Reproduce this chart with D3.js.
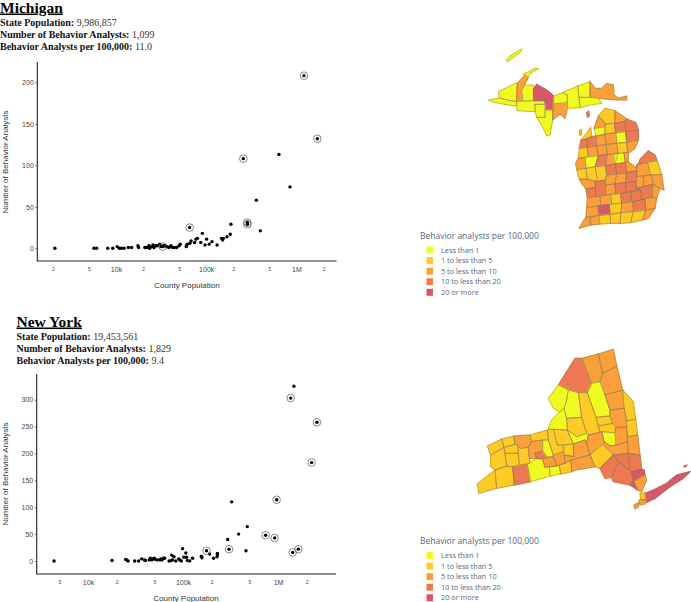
<!DOCTYPE html>
<html>
<head>
<meta charset="utf-8">
<script src="https://cdn.jsdelivr.net/npm/d3@7"></script>
<style>
body { margin: 0; background: white; }
svg { display: block; }
</style>
</head>
<body>
<div id="canvas"></div>
<script>
"use strict"

/* Scatter data */
let miPopulation = [2100, 5700, 6100, 8100, 9200, 10300, 10900, 11500, 12300, 13700, 14900, 17500, 17800, 20900, 22000, 23200, 23600, 24800, 25700, 26400, 27500, 28600, 30500, 31500, 33500, 35000, 36500, 38500, 39600, 40700, 42500, 44400, 47000, 50000, 51600, 60000, 60500, 61700, 66000, 68000, 74500, 77000, 80000, 87000, 90600, 97000, 101000, 108000, 116000, 132000, 148000, 152000, 155000, 170000, 185000, 188000, 360000, 398000, 641000, 849000];
let miAnalysts = [0, 0, 0, 0, 0, 2, 0, 0, 0, 1, 1, 3, 1, 1, 1, 3, 0, 2, 4, 1, 3, 3, 5, 2, 3, 3, 2, 1, 2, 3, 1, 1, 1, 3, 5, 2, 3, 5, 6, 9, 7, 11, 12, 7, 18, 4, 11, 5, 8, 4, 12, 10, 12, 14, 17, 29, 58, 21, 113, 74];
let miCircledPopulation = [32900, 65600, 258000, 286000, 286000, 1213000, 1706000];
let miCircledAnalysts = [2, 25, 108, 31, 29, 208, 132];

let nyPopulation = [4390, 17900, 24900, 25500, 26400, 31000, 34100, 36700, 39200, 40400, 44200, 45300, 46800, 47900, 49900, 50700, 53700, 57200, 58700, 60100, 62100, 64100, 71300, 75400, 76000, 77300, 80400, 83800, 90000, 92200, 96000, 99000, 102000, 107000, 109000, 111000, 117600, 126000, 156000, 158600, 191000, 210000, 230000, 230000, 228000, 295000, 325000, 385000, 460000, 475000, 1470000];
let nyAnalysts = [0, 1, 3, 2, 0, 0, 0, 4, 2, 1, 2, 5, 2, 4, 5, 3, 2, 2, 4, 2, 5, 5, 0, 1, 11, 2, 8, 0, 4, 2, 0, 23, 7, 15, 7, 1, 0, 5, 9, 6, 13, 5, 14, 11, 8, 40, 110, 50, 19, 64, 325];
let nyCircledPopulation = [177000, 305000, 741000, 922000, 968000, 1360000, 1426000, 1637000, 2260000, 2570000];
let nyCircledAnalysts = [19, 22, 48, 43, 114, 303, 16, 22, 183, 258];

/* Tick labels */
let miXTicks = [2000, 5000, 10000, 20000, 50000, 100000, 200000, 500000, 1000000, 2000000];
let miXLabels = ["2", "5", "10k", "2", "5", "100k", "2", "5", "1M", "2"];
let nyXTicks = [5000, 10000, 20000, 50000, 100000, 200000, 500000, 1000000, 2000000];
let nyXLabels = ["5", "10k", "2", "5", "100k", "2", "5", "1M", "2"];
let miYTicks = [0, 50, 100, 150, 200];
let nyYTicks = [0, 50, 100, 150, 200, 250, 300];

/* Legend */
let legendLabels = ["Less than 1", "1 to less than 5", "5 to less than 10", "10 to less than 20", "20 or more"];
let legendColors = ["#f0f921", "#fdca26", "#fb9f3a", "#ed7953", "#d8576b"];

/* County outlines as [colour class, outline] */
let miCounties = [
    [0, "80,60 90,48 125,27 120,38 92,58 82,65"],
    [0, "25,180 58,174 90,182 110,184 110,198 90,196 60,190 40,186"],
    [0, "55,155 105,130 112,130 110,184 90,182 58,174"],
    [2, "112,130 135,105 145,112 125,150 128,183 110,184"],
    [0, "130,103 165,85 175,87 150,100 145,112 135,105"],
    [0, "125,150 135,135 160,135 160,182 128,183"],
    [0, "110,184 162,182 195,182 195,193 164,193 166,215 112,212"],
    [4, "160,148 170,133 200,150 222,168 220,210 197,210 195,182 162,182"],
    [0, "164,193 195,193 195,232 170,232 166,215"],
    [0, "195,210 218,210 218,240 210,285 200,288 190,265 170,232 195,232"],
    [2, "220,192 262,188 262,205 255,235 240,222 218,240 218,210"],
    [0, "222,168 248,158 262,165 262,188 220,192"],
    [0, "248,158 293,138 297,172 300,203 262,205 262,165"],
    [0, "293,138 330,125 330,172 297,172"],
    [2, "330,125 345,145 365,145 380,130 400,135 402,165 415,175 440,168 440,180 410,180 390,178 355,175 330,172"],
    [0, "297,172 330,172 355,175 365,190 330,195 300,203"],
    [3, "320,218 326,213 328,228 322,232"],
    [1, "298,272 304,268 305,284 299,286"],
    [1, "355,228 375,205 405,212 405,250 378,252"],
    [2, "405,212 440,237 435,245 405,250"],
    [2, "342,265 355,228 378,252 375,260"],
    [0, "342,265 375,260 375,283 348,288"],
    [1, "303,300 320,280 332,262 335,290 322,296"],
    [1, "378,252 403,250 408,278 375,283 375,260"],
    [3, "403,250 405,250 435,245 437,275 408,278"],
    [3, "435,245 440,237 468,248 475,270 437,275"],
    [3, "298,325 303,300 322,296 322,322"],
    [3, "322,296 335,290 348,288 350,318 322,322"],
    [2, "348,288 375,283 378,313 350,318"],
    [2, "375,283 408,278 410,310 378,313"],
    [0, "408,278 437,275 440,307 410,310"],
    [3, "437,275 475,270 475,300 440,307"],
    [1, "298,325 322,322 325,350 315,352 295,355"],
    [2, "322,322 350,318 355,347 325,350"],
    [2, "350,318 378,313 382,343 355,347"],
    [2, "378,313 410,310 414,340 382,343"],
    [1, "410,310 440,307 443,337 414,340"],
    [2, "440,307 475,300 465,325 445,340 443,337"],
    [2, "295,355 315,352 318,385 290,388 287,370"],
    [0, "315,352 325,350 355,347 346,380 318,385"],
    [3, "355,347 382,343 377,377 346,380"],
    [2, "382,343 414,340 406,372 377,377"],
    [0, "402,343 432,338 436,368 406,372"],
    [2, "432,338 443,337 445,340 445,365 436,368"],
    [1, "290,388 318,385 322,418 298,418"],
    [1, "318,385 346,380 352,425 322,418"],
    [1, "346,380 377,377 380,405 375,420 352,425"],
    [3, "377,377 406,372 410,402 380,405"],
    [3, "406,372 436,368 440,398 410,402"],
    [2, "436,368 445,365 470,385 470,392 440,398"],
    [3, "470,385 480,358 505,332 525,345 532,362 502,367 470,375"],
    [2, "470,375 502,367 512,405 490,407 470,410 470,392"],
    [1, "502,367 532,362 545,403 512,405"],
    [2, "298,418 322,418 352,425 345,425 346,442 318,447 306,432"],
    [3, "318,447 346,442 348,470 322,473"],
    [3, "345,425 352,425 375,420 378,465 348,470"],
    [2, "375,420 380,405 410,402 404,432 376,435"],
    [2, "410,402 440,398 436,428 404,432"],
    [3, "440,398 470,392 470,410 468,425 436,428"],
    [2, "470,410 490,407 492,440 468,445 468,425"],
    [2, "490,407 512,405 522,435 492,440"],
    [2, "512,405 545,403 552,450 540,445 522,435"],
    [2, "376,435 404,432 408,462 378,465"],
    [3, "404,432 436,428 438,458 408,462"],
    [3, "436,428 468,425 468,445 482,450 452,455 438,458"],
    [3, "468,445 492,440 517,432 517,472 485,478 482,450"],
    [2, "517,432 522,435 540,445 530,475 517,472"],
    [2, "322,473 348,470 360,468 362,498 320,503"],
    [2, "360,468 378,465 392,463 395,493 362,498"],
    [1, "392,463 408,462 422,459 425,489 395,493"],
    [3, "422,459 438,458 452,455 455,485 425,489"],
    [3, "452,455 482,450 485,478 457,485 455,485"],
    [2, "485,478 517,472 530,475 525,505 497,510 495,478"],
    [3, "457,485 495,478 497,510 460,515"],
    [2, "425,489 457,485 460,515 423,518"],
    [1, "387,493 425,489 423,518 390,523"],
    [4, "353,498 387,493 390,523 356,527"],
    [2, "320,503 353,498 356,527 318,532"],
    [2, "318,532 330,530 332,555 297,565 312,540"],
    [2, "330,530 356,527 360,552 332,555"],
    [1, "356,527 390,523 392,550 360,552"],
    [1, "390,523 423,518 420,550 392,550"],
    [1, "423,518 460,515 452,548 420,550"],
    [1, "460,515 497,510 488,540 452,548"],
    [2, "497,510 525,505 505,535 488,540"]
];

let nyCounties = [
    [3, "265,135 315,55 335,55 365,130 352,158 325,158 295,150"],
    [2, "335,55 385,42 398,100 390,125 365,130"],
    [2, "385,42 430,28 440,78 398,100"],
    [2, "398,100 440,78 458,150 405,165 390,125"],
    [0, "352,158 365,130 390,125 405,165 420,210 420,228 378,232"],
    [0, "235,175 265,135 295,150 290,180 282,205 270,215 250,205"],
    [0, "290,180 295,150 325,158 335,232 290,235 282,205"],
    [1, "325,158 352,158 378,232 385,258 390,278 355,285 350,280 335,232"],
    [2, "405,165 458,150 462,205 420,210"],
    [1, "458,150 472,165 490,185 497,238 470,242 462,205"],
    [2, "420,210 462,205 470,242 470,262 438,262 428,250 420,228"],
    [1, "378,232 420,228 428,250 385,258"],
    [1, "385,258 428,250 438,262 435,278 395,275 390,278"],
    [1, "470,242 497,238 503,285 472,290 470,262"],
    [2, "438,262 470,262 472,290 472,305 438,315 435,278"],
    [0, "395,275 435,278 438,315 420,318 402,305"],
    [2, "472,290 503,285 510,345 475,340 472,305"],
    [2, "420,318 438,315 472,305 475,340 430,345 398,312 402,305"],
    [0, "235,265 245,240 270,215 282,205 290,235 292,270 250,268"],
    [1, "290,235 335,232 350,280 320,290 292,270"],
    [0, "292,270 320,290 350,280 355,285 350,310 345,300 310,312"],
    [2, "355,285 395,275 402,305 398,312 360,345 350,310"],
    [1, "360,345 398,312 430,345 390,385 375,380"],
    [3, "390,385 430,345 445,365 425,412 405,415"],
    [3, "430,345 475,340 480,390 445,365"],
    [3, "475,340 510,345 515,388 485,395 480,390"],
    [3, "425,412 445,365 480,390 485,395 490,425 480,435 430,425"],
    [4, "485,395 515,388 522,390 525,405 490,425"],
    [2, "490,425 525,405 530,420 515,455 502,450"],
    [4, "480,435 490,425 502,450 495,445"],
    [4, "550,450 590,430 620,405 660,395 640,415 600,440 555,475"],
    [4, "525,460 550,450 555,475 530,487"],
    [1, "510,460 525,458 527,480 512,480"],
    [2, "507,480 527,478 525,492 510,495"],
    [2, "492,495 505,488 505,500 495,507"],
    [4, "640,380 650,375 648,380"],
    [1, "22,432 75,390 80,445 27,460"],
    [1, "75,390 110,378 128,380 133,435 80,445"],
    [3, "128,380 148,375 172,372 182,425 133,435"],
    [0, "172,372 180,368 200,355 218,357 225,382 238,380 240,408 182,425"],
    [0, "238,380 260,378 268,375 272,402 240,408"],
    [1, "268,375 285,370 303,360 305,395 272,402"],
    [2, "303,360 360,345 375,380 318,390 305,395"],
    [1, "62,345 102,322 105,340 110,378 75,390 62,380"],
    [1, "52,318 95,297 102,322 62,345"],
    [1, "95,297 132,288 135,313 102,322"],
    [1, "102,322 135,313 143,315 145,340 105,340"],
    [1, "105,340 145,340 148,375 128,380 110,378"],
    [2, "132,288 180,285 185,305 175,322 150,325 143,315 135,313"],
    [1, "180,285 232,270 235,300 218,300 185,305"],
    [1, "143,315 150,325 175,322 178,355 180,368 172,372 148,375 145,340"],
    [2, "175,322 185,305 218,300 218,333 195,340 200,355 178,355"],
    [3, "195,340 218,333 232,352 218,357 200,355"],
    [0, "218,300 235,300 250,345 250,350 232,352 218,333"],
    [2, "218,357 232,352 250,350 260,378 238,380 225,382"],
    [1, "250,268 292,270 310,312 278,315 262,315"],
    [2, "250,345 282,335 285,370 268,375 260,378 250,350"],
    [1, "232,270 250,268 262,315 278,315 282,335 250,345 235,300"],
    [1, "278,315 310,312 312,350 282,345"],
    [2, "310,312 345,300 350,310 360,345 303,360 285,370 282,345 312,350"]
];

/* set up the drawing canvas */
let drawing = d3.select("#canvas")
    .append("svg")
    .attr("width", 691)
    .attr("height", 602);

/* State heading and the three stat lines */
function drawHeading(name, x, baseline, stats) {
    drawing.append("text")
        .attr("x", x)
        .attr("y", baseline)
        .attr("font-family", "Liberation Serif")
        .attr("font-weight", "bold")
        .attr("font-size", 15.5)
        .attr("text-decoration", "underline")
        .text(name);

    stats.forEach(function (s, i) {
        let line = drawing.append("text")
            .attr("x", x)
            .attr("y", baseline + 13.3 + i * 11.9)
            .attr("font-family", "Liberation Serif")
            .attr("font-size", 10)
            .attr("fill", "#111");
        line.append("tspan").attr("font-weight", "bold").text(s[0] + " ");
        line.append("tspan").attr("fill", "#333").text(s[1]);
    });
}

/* One scatter panel: log x axis, linear y axis, dots and ringed dots */
function drawScatter(p) {
    let x = d3.scaleLog().domain([10000, 1000000]).range(p.xRange);
    let y = d3.scaleLinear().domain(p.yDomain).range(p.yRange);

    let yAxis = drawing.append("g")
        .attr("transform", "translate(" + p.left + ",0)")
        .call(d3.axisLeft(y).tickValues(p.yTicks).tickSize(2).tickPadding(1.5));
    yAxis.select(".domain").remove();
    yAxis.selectAll("line").attr("stroke", "#777");
    yAxis.selectAll("text")
        .attr("font-family", "Liberation Sans")
        .attr("font-size", 7)
        .attr("fill", "#444");

    let xAxis = drawing.append("g")
        .attr("transform", "translate(0," + p.bottom + ")")
        .call(d3.axisBottom(x).tickValues(p.xTicks).tickSize(0).tickPadding(6)
            .tickFormat(function (d, i) { return p.xLabels[i]; }));
    xAxis.select(".domain").remove();
    xAxis.selectAll("text")
        .attr("font-family", "Liberation Sans")
        .attr("font-size", function (d, i) { return p.xLabels[i].length > 1 ? 7 : 5; })
        .attr("fill", "#444");

    /* axis lines */
    drawing.append("line")
        .attr("x1", p.left).attr("y1", p.top)
        .attr("x2", p.left).attr("y2", p.bottom)
        .attr("stroke", "#222").attr("stroke-width", 1.1);
    drawing.append("line")
        .attr("x1", p.left - 0.5).attr("y1", p.bottom)
        .attr("x2", p.right).attr("y2", p.bottom)
        .attr("stroke", "#222").attr("stroke-width", 1.1);

    drawing.append("text")
        .attr("x", p.xLabelX)
        .attr("y", p.bottom + 26.8)
        .attr("text-anchor", "middle")
        .attr("font-family", "Liberation Sans")
        .attr("font-size", 8)
        .attr("fill", "#333")
        .text("County Population");

    drawing.append("text")
        .attr("transform", "translate(8," + p.yLabelY + ") rotate(-90)")
        .attr("text-anchor", "middle")
        .attr("font-family", "Liberation Sans")
        .attr("font-size", 8)
        .attr("fill", "#333")
        .text("Number of Behavior Analysts");

    drawing.append("g").selectAll("circle")
        .data(p.population.concat(p.circledPopulation))
        .join("circle")
        .attr("cx", d => x(d))
        .attr("cy", (d, i) => y(p.analysts.concat(p.circledAnalysts)[i]))
        .attr("r", 1.7)
        .attr("fill", "black");

    drawing.append("g").selectAll("circle")
        .data(p.circledPopulation)
        .join("circle")
        .attr("cx", d => x(d))
        .attr("cy", (d, i) => y(p.circledAnalysts[i]))
        .attr("r", 3.8)
        .attr("fill", "none")
        .attr("stroke", "#555")
        .attr("stroke-width", 0.7);
}

/* County map: outlines are in crop coordinates, scaled down to the page */
function drawMap(counties, left, top) {
    let mapX = d3.scaleLinear().domain([0, 3]).range([left, left + 1]);
    let mapY = d3.scaleLinear().domain([0, 3]).range([top, top + 1]);
    let outline = d3.line()
        .x(d => mapX(d[0]))
        .y(d => mapY(d[1]))
        .curve(d3.curveLinearClosed);
    let pathOf = d => outline(d[1].split(" ").map(pt => pt.split(",").map(Number)));

    /* fill layer first, slightly fattened so traced edges don't leave white slivers */
    drawing.append("g").selectAll("path")
        .data(counties)
        .join("path")
        .attr("d", pathOf)
        .attr("fill", d => legendColors[d[0]])
        .attr("stroke", d => legendColors[d[0]])
        .attr("stroke-width", 1.2);

    drawing.append("g").selectAll("path")
        .data(counties)
        .join("path")
        .attr("d", pathOf)
        .attr("fill", "none")
        .attr("stroke", "#8a7a50")
        .attr("stroke-width", 0.45);
}

function drawLegend(top) {
    drawing.append("text")
        .attr("x", 420)
        .attr("y", top)
        .attr("font-family", "Open Sans")
        .attr("font-size", 8.5)
        .attr("fill", "#506784")
        .text("Behavior analysts per 100,000");

    legendLabels.forEach(function (label, i) {
        let rowY = top + 11.6 + i * 10.55;
        drawing.append("rect")
            .attr("x", 426.5)
            .attr("y", rowY - 3.5)
            .attr("width", 6.5)
            .attr("height", 7)
            .attr("fill", legendColors[i]);
        drawing.append("text")
            .attr("x", 441)
            .attr("y", rowY + 2.6)
            .attr("font-family", "Open Sans")
            .attr("font-size", 7.3)
            .attr("fill", "#506784")
            .text(label);
    });
}

drawHeading("Michigan", 0, 12.5, [
    ["State Population:", "9,986,857"],
    ["Number of Behavior Analysts:", "1,099"],
    ["Behavior Analysts per 100,000:", "11.0"]
]);
drawHeading("New York", 16.5, 326.5, [
    ["State Population:", "19,453,561"],
    ["Number of Behavior Analysts:", "1,829"],
    ["Behavior Analysts per 100,000:", "9.4"]
]);

drawScatter({
    population: miPopulation, analysts: miAnalysts,
    circledPopulation: miCircledPopulation, circledAnalysts: miCircledAnalysts,
    xTicks: miXTicks, xLabels: miXLabels, yTicks: miYTicks,
    xRange: [116, 296.4], yDomain: [0, 200], yRange: [248.3, 82.3],
    left: 37.3, right: 336.5, top: 62, bottom: 261,
    xLabelX: 187, yLabelY: 162
});
drawScatter({
    population: nyPopulation, analysts: nyAnalysts,
    circledPopulation: nyCircledPopulation, circledAnalysts: nyCircledAnalysts,
    xTicks: nyXTicks, xLabels: nyXLabels, yTicks: nyYTicks,
    xRange: [88, 278], yDomain: [0, 300], yRange: [561, 399.7],
    left: 36.7, right: 336, top: 374, bottom: 574,
    xLabelX: 186, yLabelY: 474
});

drawMap(miCounties, 480, 40);
drawMap(nyCounties, 470, 340);

drawLegend(238.5);
drawLegend(544);
</script>
</body>
</html>
